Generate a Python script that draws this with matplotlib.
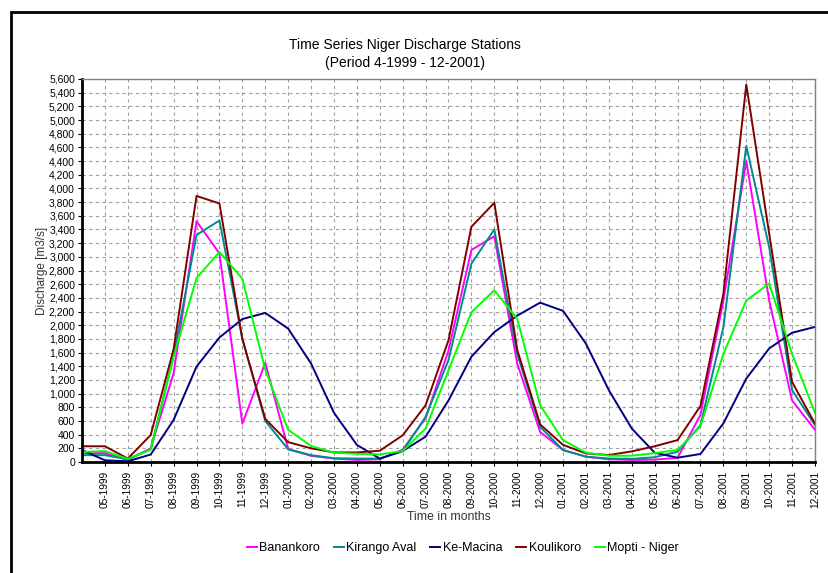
import matplotlib
matplotlib.use("Agg")
import matplotlib.pyplot as plt
from matplotlib.patches import Rectangle
from matplotlib.ticker import FuncFormatter

plt.rcParams['font.family'] = ['Liberation Sans', 'DejaVu Sans']

# months 04-1999 .. 12-2001
months = []
for y in (1999, 2000, 2001):
    for m in range(1, 13):
        if y == 1999 and m < 4:
            continue
        months.append(f"{m:02d}-{y}")

banankoro = [130, 130, 30, 200, 1300, 3520, 3050, 560, 1450, 190, 90, 50, 30, 40, 180,
             640, 1630, 3100, 3300, 1440, 440, 175, 78, 40, 30, 35, 60, 690, 2360, 4400,
             2360, 900, 470]
kirango = [100, 100, 40, 185, 1560, 3320, 3530, 1800, 600, 185, 100, 55, 50, 50, 160,
           660, 1490, 2900, 3400, 1580, 515, 175, 78, 50, 45, 70, 150, 540, 1970, 4620,
           3140, 1050, 540]
ke_macina = [175, 25, 10, 110, 615, 1395, 1820, 2090, 2180, 1950, 1440, 720, 250, 50, 160,
             370, 900, 1540, 1900, 2140, 2330, 2210, 1730, 1050, 490, 136, 63, 117, 565,
             1220, 1660, 1890, 1975]
koulikoro = [230, 230, 50, 395, 1650, 3890, 3780, 1800, 630, 290, 200, 140, 140, 165, 390,
             830, 1780, 3440, 3790, 1640, 550, 250, 126, 102, 155, 230, 320, 820, 2460,
             5520, 3340, 1170, 560]
mopti = [145, 160, 45, 180, 1540, 2690, 3070, 2680, 1350, 470, 235, 135, 120, 110, 160,
         490, 1340, 2190, 2510, 2095, 830, 320, 136, 92, 92, 130, 175, 525, 1580, 2360,
         2610, 1580, 720]

series = [
    ("Banankoro", banankoro, "#ff00ff"),
    ("Kirango Aval", kirango, "#008b8b"),
    ("Ke-Macina", ke_macina, "#000080"),
    ("Koulikoro", koulikoro, "#800000"),
    ("Mopti - Niger", mopti, "#00ff00"),
]

fig = plt.figure(figsize=(8.29, 5.73), dpi=100)
fig.patches.append(Rectangle((11 / 829, -0.01), 1.0, 1 - 12 / 573 + 0.01,
                             transform=fig.transFigure, fill=False,
                             edgecolor="black", linewidth=2))
ax = fig.add_axes([82 / 829, 1 - 462 / 573, (815 - 82) / 829, (462 - 79) / 573])

x = list(range(len(months)))
for name, vals, col in series:
    ax.plot(x, vals, color=col, linewidth=1.4, label=name)

ax.set_xlim(0, len(months) - 1)
ax.set_ylim(0, 5600)
ax.set_yticks(range(0, 5601, 200))
ax.yaxis.set_major_formatter(FuncFormatter(lambda v, p: f"{int(v):,}"))
ax.set_xticks(x[1:])
ax.set_xticklabels(months[1:], rotation=90, fontsize=7.3)
ax.tick_params(axis="y", labelsize=7.5, length=3, pad=2)
ax.tick_params(axis="x", length=3)
ax.grid(True, linestyle=(0, (3, 3)), color="#a0a0a0", linewidth=0.8)

for s in ("left", "bottom"):
    ax.spines[s].set_linewidth(2)
for s in ("top", "right"):
    ax.spines[s].set_color("#808080")
    ax.spines[s].set_linewidth(1)

ax.set_ylabel("Discharge [m3/s]", fontsize=8.5, color="#333333")
ax.yaxis.set_label_coords(-0.046, 0.5)
ax.set_xlabel("Time in months", fontsize=8.8, color="#333333", labelpad=2)
fig.text(405 / 829, 1 - 54 / 573, "Time Series Niger Discharge Stations\n(Period 4-1999 - 12-2001)",
         ha="center", va="center", fontsize=10, linespacing=1.3)

fig.legend(loc="center", bbox_to_anchor=(463 / 829, 1 - 548 / 573), ncol=5, frameon=False,
           fontsize=9, handlelength=0.8, handletextpad=0.2, columnspacing=1.1)

fig.savefig("out.png", dpi=100)
